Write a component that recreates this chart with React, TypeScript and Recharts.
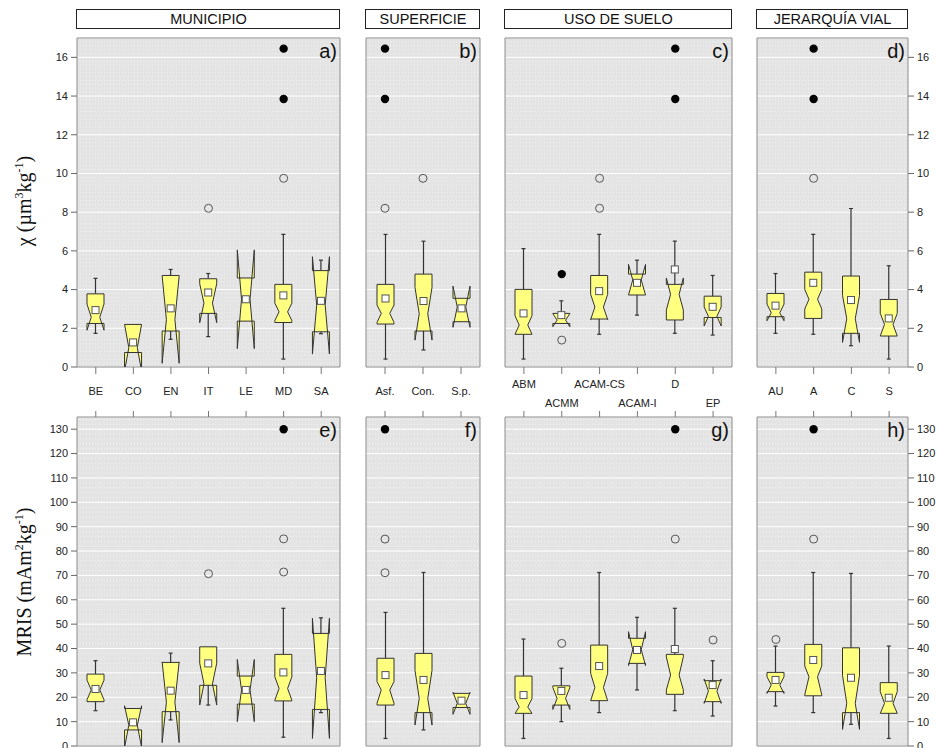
import React from "react";
import { ComposedChart, Bar, Scatter, XAxis, YAxis, CartesianGrid, ReferenceArea } from "recharts";

const FONT = "'Liberation Sans', Arial, sans-serif";

const municipioCats = ["BE", "CO", "EN", "IT", "LE", "MD", "SA"];
const superficieCats = ["Asf.", "Con.", "S.p."];
const usoCats = ["ABM", "ACMM", "ACAM-CS", "ACAM-I", "D", "EP"];
const jerarquiaCats = ["AU", "A", "C", "S"];

const chiTicks = [0, 2, 4, 6, 8, 10, 12, 14, 16];
const mrisTicks = [0, 10, 20, 30, 40, 50, 60, 70, 80, 90, 100, 110, 120, 130];

// [whiskerLow, q1, notchLow, median, notchHigh, q3, whiskerHigh, mean]
const chiMunicipio = [
  [1.74, 2.25, 1.9, 2.57, 3.25, 3.78, 4.58, 2.94],
  [0.75, 0.75, -0.2, 1.0, 2.2, 2.2, 2.2, 1.27],
  [1.43, 1.86, 0.19, 2.45, 4.7, 4.73, 5.04, 3.03],
  [1.57, 2.77, 2.29, 3.3, 4.3, 4.56, 4.83, 3.85],
  [2.37, 2.37, 0.95, 3.5, 6.05, 4.6, 4.6, 3.5],
  [0.41, 2.3, 2.4, 2.85, 3.3, 4.27, 6.85, 3.7],
  [1.72, 1.82, 0.67, 3.2, 5.7, 4.98, 5.52, 3.42],
];
const chiMunicipioOpen = [[], [], [], [8.2], [], [9.75], []];
const chiMunicipioFilled = [[], [], [], [], [], [13.85, 16.45], []];

const chiSuperficie = [
  [0.41, 2.22, 2.3, 2.77, 3.2, 4.27, 6.85, 3.54],
  [0.88, 1.86, 1.39, 2.75, 4.1, 4.8, 6.5, 3.41],
  [2.34, 2.34, 2.05, 3.1, 4.18, 3.55, 3.55, 3.03],
];
const chiSuperficieOpen = [[8.2], [9.75], []];
const chiSuperficieFilled = [[13.85, 16.45], [], []];

const chiUso = [
  [0.41, 1.69, 1.69, 2.17, 2.65, 4.01, 6.12, 2.77],
  [2.25, 2.25, 2.08, 2.42, 2.76, 2.77, 3.42, 2.68],
  [1.69, 2.48, 2.45, 3.1, 3.75, 4.73, 6.85, 3.92],
  [2.68, 3.72, 3.72, 4.5, 5.3, 4.8, 5.52, 4.35],
  [1.74, 2.43, 2.95, 3.75, 4.6, 4.27, 6.5, 5.04],
  [1.65, 2.56, 2.12, 2.62, 3.1, 3.66, 4.73, 3.11],
];
const chiUsoOpen = [[], [1.39], [8.2, 9.75], [], [], []];
const chiUsoFilled = [[], [4.8], [], [], [13.85, 16.45], []];

const chiJerarquia = [
  [1.74, 2.6, 2.39, 2.8, 3.25, 3.8, 4.83, 3.17],
  [1.69, 2.51, 3.0, 3.5, 4.0, 4.9, 6.85, 4.35],
  [1.1, 1.74, 1.27, 2.5, 3.7, 4.7, 8.19, 3.46],
  [0.41, 1.6, 1.6, 2.2, 2.77, 3.49, 5.23, 2.51],
];
const chiJerarquiaOpen = [[], [9.75], [], []];
const chiJerarquiaFilled = [[], [13.85, 16.45], [], []];

const mrisMunicipio = [
  [14.5, 18.2, 19, 23, 27, 29.5, 35.0, 23.4],
  [6.6, 6.6, -0.5, 8.5, 16.5, 15.4, 15.4, 9.7],
  [10.7, 14.1, 1.4, 18, 34.5, 34.3, 38.1, 22.7],
  [16.8, 24.9, 16.8, 25.5, 34, 40.7, 40.7, 33.9],
  [17.2, 17.2, 10, 23, 35.5, 28.7, 28.7, 23],
  [3.6, 18.5, 18.8, 23.6, 28.4, 37.6, 56.5, 30.2],
  [13.7, 15, 3.1, 28, 52.4, 46.2, 52.6, 30.8],
];
const mrisMunicipioOpen = [[], [], [], [70.7], [], [71.4, 85], []];
const mrisMunicipioFilled = [[], [], [], [], [], [130], []];

const mrisSuperficie = [
  [3.1, 16.8, 17.5, 23, 26.4, 36, 54.8, 29.1],
  [6.6, 13.7, 8.6, 19.5, 31, 38, 71.2, 27.1],
  [15.8, 15.8, 13, 17.5, 22, 21.6, 21.6, 18.6],
];
const mrisSuperficieOpen = [[71.1, 84.9], [], []];
const mrisSuperficieFilled = [[130], [], []];

const mrisUso = [
  [3.1, 13.4, 13.4, 16, 19.5, 28.7, 43.9, 20.9],
  [10, 16.8, 15, 19.5, 24, 24.7, 31.9, 22.6],
  [13.7, 18.6, 18.6, 24, 29.8, 41.4, 71.2, 32.8],
  [23, 33.9, 33, 39.5, 46.9, 44.2, 52.8, 39.4],
  [14.5, 21.2, 23, 29.1, 36.6, 37.6, 56.5, 39.8],
  [12.3, 18.2, 17.5, 22.5, 27.5, 26.8, 35, 25],
];
const mrisUsoOpen = [[], [42.1], [], [], [84.9], [43.5]];
const mrisUsoFilled = [[], [], [], [], [130], []];

const mrisJerarquia = [
  [16.4, 22.3, 21.6, 25, 28.4, 30.2, 41, 27.1],
  [13.7, 20.6, 21, 28.4, 32.8, 41.7, 71.2, 35.3],
  [8.9, 13.7, 6.8, 17.5, 29, 40.3, 70.8, 28],
  [3.1, 13.4, 13.4, 17.5, 22.3, 26, 41, 19.8],
];
const mrisJerarquiaOpen = [[43.7], [84.9], [], []];
const mrisJerarquiaFilled = [[], [130], [], []];

function buildRows(cats: string[], box: number[][], open: number[][], filled: number[][]) {
  return cats.map((cat, i) => {
    const [wl, q1, nl, med, nh, q3, wh, mean] = box[i];
    return {
      cat, wl, q1, nl, med, nh, q3, wh, mean,
      range: [Math.min(wl, q1, nl), Math.max(wh, q3, nh)],
      o1: open[i][0] ?? null,
      o2: open[i][1] ?? null,
      f1: filled[i][0] ?? null,
      f2: filled[i][1] ?? null,
    };
  });
}

function stepsOf(max: number, step: number) {
  const out: number[] = [];
  for (let v = 0; v <= max + 1e-9; v += step) out.push(Math.round(v * 100) / 100);
  return out;
}

const NotchBox = (props: any) => {
  const { x, y, width, height, payload: d } = props;
  if (!d || !d.range) return <g />;
  const [lo, hi] = d.range;
  const top = Math.min(y, y + height);
  const h = Math.abs(height);
  const py = (v: number) => top + (h * (hi - v)) / (hi - lo);
  const L = x;
  const R = x + width;
  const ins = width / 4;
  const cx = x + width / 2;
  const pts = [
    [L, py(d.q1)], [L, py(d.nl)], [L + ins, py(d.med)], [L, py(d.nh)], [L, py(d.q3)],
    [R, py(d.q3)], [R, py(d.nh)], [R - ins, py(d.med)], [R, py(d.nl)], [R, py(d.q1)],
  ].map((p) => p.join(",")).join(" ");
  const ws = "#333";
  return (
    <g>
      {d.wh > d.q3 && (
        <g>
          <line x1={cx} x2={cx} y1={py(d.q3)} y2={py(d.wh)} stroke={ws} strokeWidth={1.2} />
          <line x1={cx - 2} x2={cx + 2} y1={py(d.wh)} y2={py(d.wh)} stroke={ws} strokeWidth={1.2} />
        </g>
      )}
      {d.wl < d.q1 && (
        <g>
          <line x1={cx} x2={cx} y1={py(d.q1)} y2={py(d.wl)} stroke={ws} strokeWidth={1.2} />
          <line x1={cx - 2} x2={cx + 2} y1={py(d.wl)} y2={py(d.wl)} stroke={ws} strokeWidth={1.2} />
        </g>
      )}
      <polygon points={pts} fill="#ffff80" stroke="#333" strokeWidth={1} />
      <rect x={cx - 3.5} y={py(d.mean) - 3.5} width={7} height={7} fill="#fff" stroke="#555" strokeWidth={1} />
    </g>
  );
};

const openDot = (key: string) => (p: any) =>
  p.payload == null || p.payload[key] == null ? <g /> : <circle cx={p.cx} cy={p.cy} r={4} fill="none" stroke="#555" strokeWidth={1} />;
const filledDot = (key: string) => (p: any) =>
  p.payload == null || p.payload[key] == null ? <g /> : <circle cx={p.cx} cy={p.cy} r={4.2} fill="#000" />;

const xTick = (stagger: boolean) => (p: any) => {
  const dy = stagger ? (p.index % 2 === 0 ? 12 : 31) : 19;
  return (
    <text x={p.x} y={p.y + dy} textAnchor="middle" fontSize={11} fontFamily={FONT} fill="#222">
      {p.payload.value}
    </text>
  );
};
const noTick = () => <g />;

type PanelProps = {
  data: any[];
  x: number;
  y: number;
  w: number;
  h: number;
  max: number;
  major: number[];
  minorStep: number;
  yside: "left" | "right" | "none";
  xside: "top" | "bottom";
  stagger?: boolean;
};

function Panel({ data, x, y, w, h, max, major, minorStep, yside, xside, stagger }: PanelProps) {
  const L = 80, R = 40, T = 40, B = 50;
  const minor = stepsOf(max, minorStep);
  const margin = {
    left: yside === "left" ? L - 40 : L,
    right: yside === "right" ? R - 30 : R,
    top: xside === "top" ? T - 30 : T,
    bottom: xside === "bottom" ? B - 30 : B,
  };
  return (
    <div style={{ position: "absolute", left: x - L, top: y - T }}>
      <ComposedChart width={L + w + R} height={T + h + B} data={data} margin={margin}>
        <XAxis
          dataKey="cat"
          orientation={xside}
          height={30}
          interval={0}
          axisLine={false}
          tickSize={xside === "bottom" ? 7 : 6}
          tickLine={{ stroke: "#777" }}
          tick={xside === "bottom" ? xTick(!!stagger) : noTick}
        />
        <YAxis
          yAxisId="minor"
          orientation={yside === "right" ? "right" : "left"}
          hide={yside === "none"}
          width={0}
          type="number"
          domain={[0, max]}
          allowDataOverflow
          ticks={minor}
          interval={0}
          axisLine={false}
          tickSize={3}
          tickLine={{ stroke: "#888" }}
          tick={noTick}
        />
        <YAxis
          yAxisId="main"
          orientation={yside === "right" ? "right" : "left"}
          hide={yside === "none"}
          width={yside === "right" ? 30 : 40}
          type="number"
          domain={[0, max]}
          allowDataOverflow
          ticks={major}
          interval={0}
          axisLine={false}
          tickSize={6}
          tickMargin={3}
          tickLine={{ stroke: "#666" }}
          tick={{ fontSize: 11, fontFamily: FONT, fill: "#222" }}
        />
        <CartesianGrid yAxisId="minor" vertical={false} fill="#e4e4e4" stroke="#f1f1f1" strokeDasharray="1 2" />
        <CartesianGrid yAxisId="main" vertical={false} stroke="#ffffff" strokeWidth={1} />
        <Bar yAxisId="main" dataKey="range" barSize={17} shape={NotchBox} isAnimationActive={false} />
        <Scatter yAxisId="main" dataKey="o1" shape={openDot("o1")} isAnimationActive={false} />
        <Scatter yAxisId="main" dataKey="o2" shape={openDot("o2")} isAnimationActive={false} />
        <Scatter yAxisId="main" dataKey="f1" shape={filledDot("f1")} isAnimationActive={false} />
        <Scatter yAxisId="main" dataKey="f2" shape={filledDot("f2")} isAnimationActive={false} />
        <ReferenceArea yAxisId="main" y1={0} y2={max} fill="none" stroke="#8c8c8c" strokeWidth={1} />
      </ComposedChart>
    </div>
  );
}

const cols = [
  { x: 77, w: 263, title: "MUNICIPIO" },
  { x: 366, w: 114, title: "SUPERFICIE" },
  { x: 505, w: 227, title: "USO DE SUELO" },
  { x: 757, w: 151, title: "JERARQUÍA VIAL" },
];
const topY = 38;
const botY = 417;
const plotH = 329;
const topLetters = ["a)", "b)", "c)", "d)"];
const botLetters = ["e)", "f)", "g)", "h)"];

export default function App() {
  const top = [
    buildRows(municipioCats, chiMunicipio, chiMunicipioOpen, chiMunicipioFilled),
    buildRows(superficieCats, chiSuperficie, chiSuperficieOpen, chiSuperficieFilled),
    buildRows(usoCats, chiUso, chiUsoOpen, chiUsoFilled),
    buildRows(jerarquiaCats, chiJerarquia, chiJerarquiaOpen, chiJerarquiaFilled),
  ];
  const bottom = [
    buildRows(municipioCats, mrisMunicipio, mrisMunicipioOpen, mrisMunicipioFilled),
    buildRows(superficieCats, mrisSuperficie, mrisSuperficieOpen, mrisSuperficieFilled),
    buildRows(usoCats, mrisUso, mrisUsoOpen, mrisUsoFilled),
    buildRows(jerarquiaCats, mrisJerarquia, mrisJerarquiaOpen, mrisJerarquiaFilled),
  ];
  const side = (i: number) => (i === 0 ? "left" : i === 3 ? "right" : "none") as "left" | "right" | "none";
  return (
    <div style={{ position: "absolute", left: 0, top: 0, width: 937, height: 748, background: "#fff", overflow: "hidden" }}>
      {cols.map((c, i) => (
        <Panel key={"t" + i} data={top[i]} x={c.x} y={topY} w={c.w} h={plotH} max={17} major={chiTicks}
          minorStep={0.2} yside={side(i)} xside="bottom" stagger={i === 2} />
      ))}
      {cols.map((c, i) => (
        <Panel key={"b" + i} data={bottom[i]} x={c.x} y={botY} w={c.w} h={plotH} max={135} major={mrisTicks}
          minorStep={2} yside={side(i)} xside="top" />
      ))}
      <svg width={937} height={748} style={{ position: "absolute", left: 0, top: 0, pointerEvents: "none" }}>
        {cols.map((c, i) => (
          <g key={"h" + i}>
            <rect x={c.x - 0.5} y={9.5} width={c.w} height={19} fill="#fff" stroke="#222" strokeWidth={1} />
            <text x={c.x + c.w / 2} y={23.5} textAnchor="middle" fontSize={14.5} fontFamily={FONT} fill="#111">
              {c.title}
            </text>
            <text x={c.x + c.w - 3} y={58} textAnchor="end" fontSize={20} fontFamily={FONT} fill="#111">
              {topLetters[i]}
            </text>
            <text x={c.x + c.w - 3} y={437} textAnchor="end" fontSize={20} fontFamily={FONT} fill="#111">
              {botLetters[i]}
            </text>
          </g>
        ))}
        <text x={31} y={201} transform="rotate(-90 31 201)" textAnchor="middle" fontSize={20}
          fontFamily="'Liberation Serif', 'DejaVu Serif', serif" fill="#111">
          χ (µm<tspan fontSize={12} dy={-8}>3</tspan><tspan dy={8}>kg</tspan><tspan fontSize={12} dy={-8}>-1</tspan><tspan dy={8}>)</tspan>
        </text>
        <text x={31} y={582} transform="rotate(-90 31 582)" textAnchor="middle" fontSize={20}
          fontFamily="'Liberation Serif', 'DejaVu Serif', serif" fill="#111">
          MRIS (mAm<tspan fontSize={12} dy={-8}>2</tspan><tspan dy={8}>kg</tspan><tspan fontSize={12} dy={-8}>-1</tspan><tspan dy={8}>)</tspan>
        </text>
      </svg>
    </div>
  );
}
